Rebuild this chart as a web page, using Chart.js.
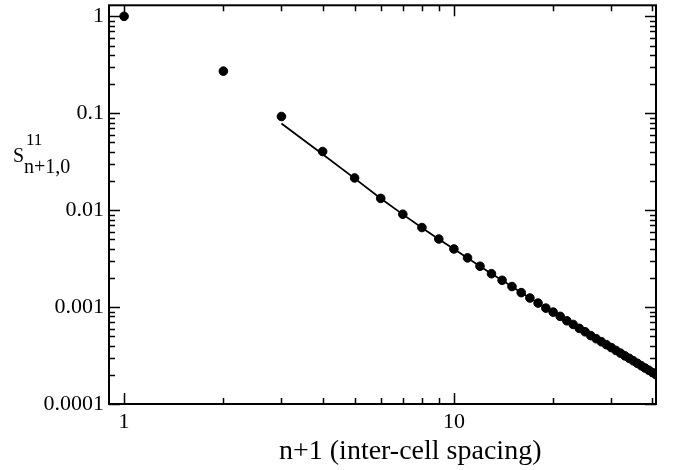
<!DOCTYPE html>
<html>
<head>
<meta charset="utf-8">
<script src="https://cdn.jsdelivr.net/npm/chart.js@4.4.1/dist/chart.umd.min.js"></script>
<style>
  body { margin: 0; background: #fff; }
  canvas { display: block; }
</style>
</head>
<body>
<canvas id="grafico" width="681" height="470"></canvas>
<script>
// n+1 values (inter-cell spacing)
const spacing = [1, 2, 3, 4, 5, 6, 7, 8, 9, 10, 11, 12, 13, 14, 15, 16, 17, 18, 19, 20,
    21, 22, 23, 24, 25, 26, 27, 28, 29, 30, 31, 32, 33, 34, 35, 36, 37, 38, 39, 40, 41];
// S^11_{n+1,0} dots
const sValues = [1.0, 0.272, 0.0926, 0.0403, 0.0215, 0.01323, 0.00908, 0.00662, 0.00504, 0.00398,
    0.00322, 0.00264, 0.00221, 0.00189, 0.00163, 0.00141, 0.00124, 0.00110, 0.000976, 0.000887,
    0.000802, 0.000722, 0.000662, 0.000603, 0.000556, 0.000508, 0.000472, 0.000439, 0.000409, 0.000382,
    0.000357, 0.000335, 0.000314, 0.000296, 0.000279, 0.000263, 0.000248, 0.000235, 0.000223, 0.000211,
    0.000201];
// solid curve, starts at n+1 = 3
const fitSpacing = [3, 4, 5, 6, 7, 8, 9, 10, 11, 12, 13, 14, 15, 16, 17, 18, 19, 20,
    21, 22, 23, 24, 25, 26, 27, 28, 29, 30, 31, 32, 33, 34, 35, 36, 37, 38, 39, 40, 41];
const fitValues = [0.0785, 0.0378, 0.0213, 0.0132, 0.00905, 0.0066, 0.00502, 0.00397,
    0.00321, 0.00264, 0.00221, 0.00189, 0.00163, 0.00141, 0.00124, 0.00110, 0.000976, 0.000887,
    0.000802, 0.000722, 0.000662, 0.000603, 0.000556, 0.000508, 0.000472, 0.000439, 0.000409, 0.000382,
    0.000357, 0.000335, 0.000314, 0.000296, 0.000279, 0.000263, 0.000248, 0.000235, 0.000223, 0.000211,
    0.000201];

const xTicks = [1, 2, 3, 4, 5, 6, 7, 8, 9, 10, 20, 30, 40];
const xMajor = [1, 10];
const yMajor = [0.0001, 0.001, 0.01, 0.1, 1];
const yTickLabels = ['0.0001', '0.001', '0.01', '0.1', '1'];

const fuente = '"Liberation Serif", "Times New Roman", serif';

function ticksY() {
    const lista = [];
    yMajor.forEach(d => {
        for (let k = 1; k <= 9; k++) {
            const v = +(d * k).toPrecision(3);
            if (v <= 1.3) lista.push(v);
        }
    });
    return lista;
}

const marco = {
    id: 'marco',
    afterDraw(chart) {
        const ctx = chart.ctx;
        const a = chart.chartArea;
        const x = chart.scales.x;
        const y = chart.scales.y;
        ctx.save();
        ctx.strokeStyle = '#000';
        ctx.lineWidth = 2;
        ctx.strokeRect(a.left, a.top, a.right - a.left, a.bottom - a.top);

        ctx.lineWidth = 1.5;
        ctx.beginPath();
        xTicks.forEach(v => {
            const px = Math.round(x.getPixelForValue(v)) + 0.5;
            const len = xMajor.includes(v) ? 11 : 6;
            ctx.moveTo(px, a.bottom); ctx.lineTo(px, a.bottom - len);
            ctx.moveTo(px, a.top); ctx.lineTo(px, a.top + len);
        });
        ticksY().forEach(v => {
            const py = Math.round(y.getPixelForValue(v)) + 0.5;
            const len = yMajor.includes(v) ? 11 : 6;
            ctx.moveTo(a.left, py); ctx.lineTo(a.left + len, py);
            ctx.moveTo(a.right, py); ctx.lineTo(a.right - len, py);
        });
        ctx.stroke();

        // axis titles
        ctx.fillStyle = '#000';
        ctx.textAlign = 'left';
        ctx.textBaseline = 'alphabetic';
        ctx.font = '28px ' + fuente;
        ctx.fillText('n+1 (inter-cell spacing)', 279, 459);

        ctx.font = '20px ' + fuente;
        ctx.fillText('S', 13, 162);
        ctx.font = '17px ' + fuente;
        ctx.fillText('11', 26, 145);
        ctx.font = '20px ' + fuente;
        ctx.fillText('n+1,0', 24, 173);
        ctx.restore();
    }
};

const grafico = new Chart(document.getElementById('grafico').getContext('2d'), {
    type: 'scatter',
    data: {
        datasets: [{
            label: 'S',
            data: spacing.map((n, i) => ({ x: n, y: sValues[i] })),
            backgroundColor: '#000',
            borderColor: '#000',
            pointRadius: 4.3,
            pointHoverRadius: 4.3,
            showLine: false
        }, {
            label: 'ajuste',
            data: fitSpacing.map((n, i) => ({ x: n, y: fitValues[i] })),
            borderColor: '#000',
            borderWidth: 1.8,
            pointRadius: 0,
            showLine: true,
            fill: false,
            tension: 0
        }]
    },
    options: {
        responsive: false,
        animation: false,
        layout: { padding: { top: 2, right: 25, left: 0, bottom: 0 } },
        plugins: {
            legend: { display: false },
            tooltip: { enabled: false }
        },
        scales: {
            x: {
                type: 'logarithmic',
                min: 0.9,
                max: 41,
                grid: { display: false, drawTicks: false },
                border: { display: false },
                afterBuildTicks: (s) => { s.ticks = xTicks.map(v => ({ value: v })); },
                afterFit: (s) => { s.height = 66; s.paddingLeft = 0; s.paddingRight = 0; },
                ticks: {
                    autoSkip: false,
                    maxRotation: 0,
                    padding: 5,
                    color: '#000',
                    font: { family: fuente, size: 22 },
                    callback: (v) => xMajor.includes(v) ? String(v) : ''
                }
            },
            y: {
                type: 'logarithmic',
                min: 0.0001,
                max: 1.3,
                grid: { display: false, drawTicks: false },
                border: { display: false },
                afterBuildTicks: (s) => { s.ticks = yMajor.map(v => ({ value: v })); },
                afterFit: (s) => { s.width = 109; s.paddingTop = 0; s.paddingBottom = 0; },
                ticks: {
                    autoSkip: false,
                    padding: 5,
                    color: '#000',
                    font: { family: fuente, size: 22 },
                    callback: (v) => {
                        const i = yMajor.indexOf(v);
                        return i >= 0 ? yTickLabels[i] : '';
                    }
                }
            }
        }
    },
    plugins: [marco]
});
</script>
</body>
</html>
